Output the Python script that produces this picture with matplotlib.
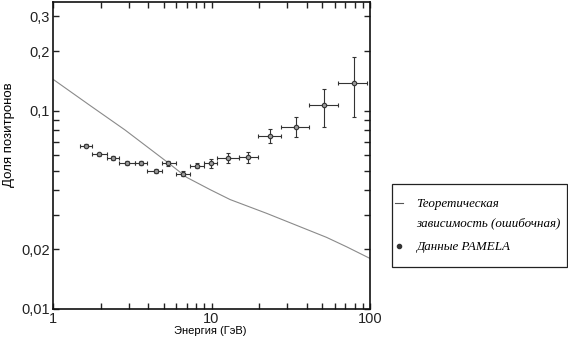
import numpy as np
import matplotlib.pyplot as plt
from matplotlib.ticker import FixedLocator, FixedFormatter, NullFormatter
from matplotlib.lines import Line2D
from matplotlib.patches import Rectangle

plt.rcParams['font.family'] = ['Liberation Sans', 'DejaVu Sans']

# PAMELA positron fraction
energy = [1.62, 1.95, 2.38, 2.94, 3.59, 4.45, 5.34, 6.64, 8.1, 9.93, 12.8, 17.1, 23.4, 34.1, 51.5, 79.6]
e_low = [1.48, 1.76, 2.19, 2.61, 3.29, 3.92, 4.87, 5.97, 7.32, 8.97, 10.8, 14.9, 19.7, 27.4, 41.2, 62.8]
e_high = [1.76, 2.19, 2.61, 3.29, 3.92, 4.87, 5.97, 7.32, 8.97, 10.8, 14.9, 19.7, 27.4, 41.2, 62.8, 95.7]
frac = [0.0668, 0.0604, 0.0579, 0.0546, 0.0544, 0.0498, 0.0544, 0.0483, 0.0528, 0.0544, 0.0581, 0.0588, 0.0748, 0.0833, 0.107, 0.139]
f_low = [0.0655, 0.0592, 0.0567, 0.0535, 0.0532, 0.0487, 0.0530, 0.0468, 0.0515, 0.0515, 0.0546, 0.0546, 0.0689, 0.0739, 0.0830, 0.0932]
f_high = [0.0681, 0.0616, 0.0591, 0.0557, 0.0556, 0.0509, 0.0558, 0.0498, 0.0546, 0.0572, 0.0614, 0.0621, 0.0811, 0.0932, 0.129, 0.187]

# theoretical curve
theo_e = [1.0, 1.712, 2.845, 5.21, 6.98, 9.78, 13.1, 22.3, 36.3, 53.2, 71.3, 100]
theo_f = [0.1446, 0.1066, 0.0802, 0.0555, 0.0462, 0.0401, 0.0357, 0.0304, 0.026, 0.023, 0.0206, 0.018]

y_major = [0.01, 0.02, 0.1, 0.2, 0.3]
y_labels = ["0,01", "0,02", "0,1", "0,2", "0,3"]
y_minor = [0.03, 0.04, 0.05, 0.06, 0.07, 0.08, 0.09]

W, H = 568, 341
fig = plt.figure(figsize=(W / 100, H / 100), dpi=100)
ax = fig.add_axes([53 / W, 1 - 309 / H, 317 / W, 307 / H])

ax.plot(theo_e, theo_f, color="#8a8a8a", lw=0.8)

e = np.array(energy)
f = np.array(frac)
xerr = [e - np.array(e_low), np.array(e_high) - e]
yerr = [f - np.array(f_low), np.array(f_high) - f]
ax.errorbar(e, f, xerr=xerr, yerr=yerr, fmt="o", ms=3.2, mfc="#999999", mec="#333333",
            mew=0.8, ecolor="#333333", elinewidth=0.8, capsize=1.2, capthick=0.8)

ax.set_xscale("log")
ax.set_yscale("log")
ax.set_xlim(1, 100)
ax.set_ylim(0.01, 0.355)

ax.yaxis.set_major_locator(FixedLocator(y_major))
ax.yaxis.set_major_formatter(FixedFormatter(y_labels))
ax.yaxis.set_minor_locator(FixedLocator(y_minor))
ax.yaxis.set_minor_formatter(NullFormatter())
ax.xaxis.set_major_locator(FixedLocator([1, 10, 100]))
ax.xaxis.set_major_formatter(FixedFormatter(["1", "10", "100"]))

ax.tick_params(which="both", direction="in", top=True, right=True, width=1.0,
               labelsize=10.5, pad=2, colors="#222222", length=4)
for s in ax.spines.values():
    s.set_linewidth(1.2)
    s.set_color("#111111")

ax.set_xlabel("Энергия (ГэВ)", fontsize=8, va="center")
ax.xaxis.set_label_coords(0.495, -0.072)
ax.set_ylabel("Доля позитронов", fontsize=9.5, va="center")
ax.yaxis.set_label_coords(-0.14, 0.567)

# legend box drawn by hand to follow the reference layout
fig.add_artist(Rectangle((392 / W, 1 - 267 / H), 175 / W, 83 / H, transform=fig.transFigure,
                         fill=True, facecolor="white", edgecolor="#222222", lw=0.9))
fig.add_artist(Line2D([395 / W, 403 / W], [1 - 203 / H] * 2, transform=fig.transFigure,
                      color="#555555", lw=0.8))
fig.add_artist(Line2D([398.5 / W], [1 - 246 / H], transform=fig.transFigure,
                      ls="none", marker="o", ms=3, color="#333333"))
leg_font = {"family": ["Liberation Serif", "DejaVu Serif"], "style": "italic", "size": 9.4}
fig.text(416 / W, 1 - 207 / H, "Теоретическая", va="baseline", ha="left", **leg_font)
fig.text(416 / W, 1 - 226 / H, "зависимость (ошибочная)", va="baseline", ha="left", **leg_font)
fig.text(416 / W, 1 - 250 / H, "Данные PAMELA", va="baseline", ha="left", **leg_font)

fig.savefig("out.png", dpi=100)
